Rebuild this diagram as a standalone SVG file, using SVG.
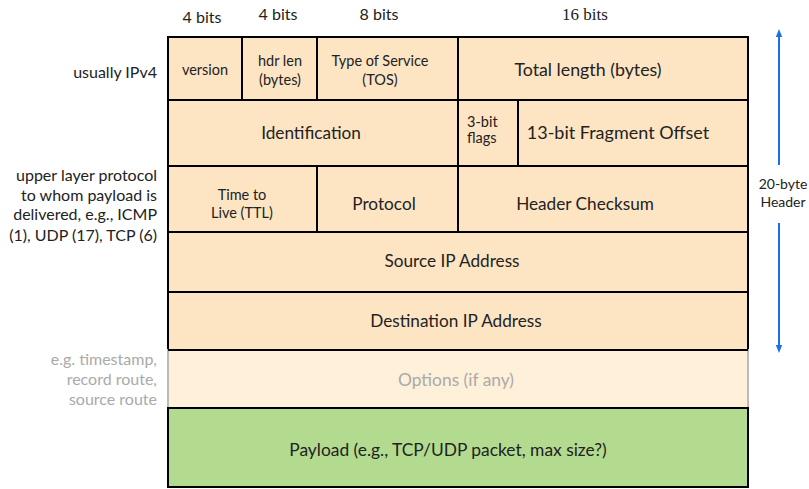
<svg xmlns="http://www.w3.org/2000/svg" width="809" height="489" viewBox="0 0 809 489">
<defs>
<style>
.hdr{fill:#FDE5C4;stroke:#000;stroke-width:2}
.t{font-family:Lato,"Liberation Sans",sans-serif;font-size:17.2px;fill:#222;text-anchor:middle}
.s{font-size:14.5px}
.l{font-family:Lato,"Liberation Sans",sans-serif;font-size:16px;fill:#222;text-anchor:end}
.lg{font-size:16px;fill:#aaa}
.g{fill:#aaa}
.b{font-family:"Liberation Serif",serif;font-size:17px;fill:#222;text-anchor:middle}
</style>
<marker id="ah" viewBox="0 0 10 10" refX="5" refY="5" markerWidth="8" markerHeight="8" orient="auto-start-reverse" markerUnits="userSpaceOnUse"><path d="M0,1 L10,5 L0,9 Z" fill="#1a6ff0"/></marker>
</defs>
<rect width="809" height="489" fill="#fff"/>
<g id="bits">
<text class="t" x="202" y="23" style="font-size:16px">4 bits</text>
<text class="t" x="278" y="20" style="font-size:16px">4 bits</text>
<text class="t" x="379" y="20" style="font-size:16px">8 bits</text>
<text class="b" x="585" y="20">16 bits</text>
</g>
<g id="version"><rect class="hdr" x="168" y="37" width="74" height="63"/><text class="t s" x="205" y="75">version</text></g>
<g id="hdrlen"><rect class="hdr" x="242" y="37" width="75" height="63"/><text class="t s" x="280" y="66">hdr len</text><text class="t s" x="280" y="85">(bytes)</text></g>
<g id="tos"><rect class="hdr" x="317" y="37" width="141" height="63"/><text class="t s" x="380" y="66">Type of Service</text><text class="t s" x="380" y="85">(TOS)</text></g>
<g id="totallen"><rect class="hdr" x="458" y="37" width="290" height="63"/><text class="t" x="588" y="76" style="font-size:17.8px">Total length (bytes)</text></g>
<g id="ident"><rect class="hdr" x="168" y="100" width="290" height="66"/><text class="t" x="311" y="139">Identification</text></g>
<g id="flags"><rect class="hdr" x="458" y="100" width="60" height="66"/><text class="t s" x="467" y="127" style="text-anchor:start">3-bit</text><text class="t s" x="467" y="143" style="text-anchor:start">flags</text></g>
<g id="fragoff"><rect class="hdr" x="518" y="100" width="230" height="66"/><text class="t" x="618" y="139" style="font-size:18px">13-bit Fragment Offset</text></g>
<g id="ttl"><rect class="hdr" x="168" y="166" width="149" height="66"/><text class="t s" x="242" y="200">Time to</text><text class="t s" x="242" y="218">Live (TTL)</text></g>
<g id="protocol"><rect class="hdr" x="317" y="166" width="141" height="66"/><text class="t" x="384" y="210">Protocol</text></g>
<g id="checksum"><rect class="hdr" x="458" y="166" width="290" height="66"/><text class="t" x="585" y="210">Header Checksum</text></g>
<g id="srcip"><rect class="hdr" x="168" y="232" width="580" height="60"/><text class="t" x="452" y="267">Source IP Address</text></g>
<g id="dstip"><rect class="hdr" x="168" y="292" width="580" height="58"/><text class="t" x="456" y="327">Destination IP Address</text></g>
<g id="options"><rect x="168" y="350" width="580" height="58" fill="#FEF0D9" stroke="#bbb" stroke-width="2"/><line x1="168" y1="350" x2="748" y2="350" stroke="#000" stroke-width="2"/><text class="t g" x="456" y="386" style="font-size:17.4px">Options (if any)</text></g>
<g id="payload"><rect x="168" y="408" width="580" height="79" fill="#B3DB8F" stroke="#000" stroke-width="2"/><text class="t" x="448" y="456" style="font-size:17.4px">Payload (e.g., TCP/UDP packet, max size?)</text></g>
<g id="leftlabels">
<text class="l" x="157" y="78">usually IPv4</text>
<text class="l" x="157" y="181">upper layer protocol</text>
<text class="l" x="157" y="201">to whom payload is</text>
<text class="l" x="157" y="220">delivered, e.g., ICMP</text>
<text class="l" x="157" y="241">(1), UDP (17), TCP (6)</text>
<text class="l lg" x="157" y="365">e.g. timestamp,</text>
<text class="l lg" x="157" y="385">record route,</text>
<text class="l lg" x="157" y="405">source route</text>
</g>
<g id="connectors">
<line x1="779" y1="165" x2="779" y2="33" stroke="#1a6ff0" stroke-width="2" marker-end="url(#ah)"/>
<line x1="779" y1="223" x2="779" y2="349" stroke="#1a6ff0" stroke-width="2" marker-end="url(#ah)"/>
</g>
<g id="headerlabel">
<text class="t" x="783" y="189" style="font-size:14px">20-byte</text>
<text class="t" x="783" y="207" style="font-size:14px">Header</text>
</g>
</svg>
